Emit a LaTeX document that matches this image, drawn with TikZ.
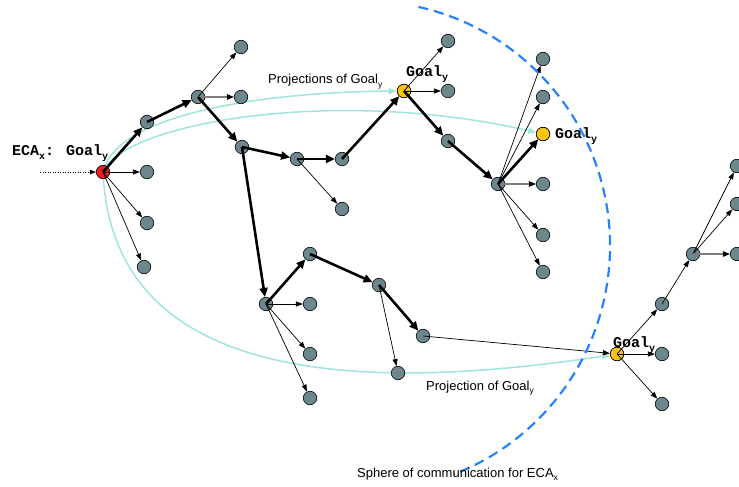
\documentclass[tikz,border=0pt]{standalone}
\usepackage{fontspec}
\setmainfont{Liberation Sans}
\newfontfamily\courfont{Liberation Mono}
\usetikzlibrary{arrows.meta}
\definecolor{ndgray}{RGB}{108,136,142}
\definecolor{ndyellow}{RGB}{250,196,20}
\definecolor{ndred}{RGB}{236,28,36}
\definecolor{projcol}{RGB}{160,228,222}
\definecolor{spherecol}{RGB}{40,130,255}
\definecolor{arrgray}{RGB}{125,125,125}
\newcommand{\monosub}[1]{\raisebox{-4pt}{\fontsize{10}{10}\selectfont #1}}
\newcommand{\sanssub}[1]{\raisebox{-3.5pt}{\fontsize{8.5}{9}\selectfont #1}}
\begin{document}
\begin{tikzpicture}[x=1pt,y=-1pt,
  nd/.style={circle,draw=black,line width=0.6pt,fill=ndgray,minimum size=13.5pt,inner sep=0pt},
  ndy/.style={nd,fill=ndyellow},
  ndr/.style={nd,fill=ndred},
  thinarr/.style={line width=0.7pt,-{Triangle[length=7pt,width=5pt]}},
  grayarr/.style={line width=1.2pt,draw=arrgray,-{Triangle[length=7pt,width=5.5pt,color=black]}},
  boldarr/.style={line width=2.6pt,-{Triangle[length=9pt,width=8pt]}},
  proj/.style={line width=1.5pt,draw=projcol,-{Triangle[length=8pt,width=6pt,fill=projcol]}},
  sphere/.style={line width=2.2pt,draw=spherecol,dash pattern=on 10pt off 6pt},
  monolbl/.style={anchor=base west,inner sep=0pt,font=\courfont\bfseries\fontsize{15}{17}\selectfont},
  sanslbl/.style={anchor=base west,inner sep=0pt,font=\fontsize{13}{15}\selectfont}
]
\useasboundingbox (0,0) rectangle (739,487);
% projection curves (underneath)
\coordinate (rc) at (103,172);
\node[ndy] (y1) at (404,91) {};
\node[ndy] (y2) at (543,134) {};
\node[ndy] (y3) at (617,354) {};
\draw[proj] (rc) .. controls (115,115) and (260,92) .. (y1);
\draw[proj] (rc) .. controls (120,125) and (330,85) .. (y2);
\draw[proj] (rc) .. controls (110,330) and (250,410) .. (y3);
% nodes
\node[ndr] (r) at (103,172) {};
\node[nd] (a1) at (147,122) {};
\node[nd] (a2) at (198,97) {};
\node[nd] (a2t) at (241,47) {};
\node[nd] (a2r) at (241,97) {};
\node[nd] (r1) at (147,172) {};
\node[nd] (r2) at (147,223) {};
\node[nd] (r3) at (144,267) {};
\node[nd] (a3) at (242,147) {};
\node[nd] (a4) at (297,159) {};
\node[nd] (a4c) at (342,209) {};
\node[nd] (a5) at (342,159) {};
\node[ndy] (y1) at (404,91) {};
\node[nd] (y1t) at (448,41) {};
\node[nd] (y1r) at (448,91) {};
\node[nd] (b1) at (448,141) {};
\node[nd] (b2) at (498,184) {};
\node[nd] (b2a) at (543,59) {};
\node[nd] (b2b) at (543,97) {};
\node[ndy] (y2) at (543,134) {};
\node[nd] (b2c) at (543,184) {};
\node[nd] (b2d) at (543,235) {};
\node[nd] (b2e) at (543,272) {};
\node[nd] (c1) at (266,304) {};
\node[nd] (c2) at (310,254) {};
\node[nd] (c1a) at (310,304) {};
\node[nd] (c1b) at (310,354) {};
\node[nd] (c1c) at (310,398) {};
\node[nd] (c3) at (379,285) {};
\node[nd] (c3a) at (398,373) {};
\node[nd] (c4) at (423,336) {};
\node[ndy] (y3) at (617,354) {};
\node[nd] (y3a) at (662,304) {};
\node[nd] (y3b) at (662,354) {};
\node[nd] (y3c) at (662,404) {};
\node[nd] (d2) at (693,254) {};
\node[nd] (d2a) at (737,166) {};
\node[nd] (d2b) at (737,204) {};
\node[nd] (d2c) at (737,254) {};
% incoming dotted
\coordinate (in) at (40,172);
\draw[line width=0.5pt,dotted,-{Triangle[length=6pt,width=4.5pt]}] (in) -- (r);
% thin edges
\draw[thinarr] (r.center) -- (r1);
\draw[thinarr] (r.center) -- (r2);
\draw[thinarr] (r.center) -- (r3);
\draw[thinarr] (a2.center) -- (a2t);
\draw[grayarr] (a2.center) -- (a2r);
\draw[thinarr] (a4.center) -- (a4c);
\draw[thinarr] (y1.center) -- (y1t);
\draw[thinarr] (y1.center) -- (y1r);
\draw[thinarr] (b2.center) -- (b2a);
\draw[thinarr] (b2.center) -- (b2b);
\draw[grayarr] (b2.center) -- (b2c);
\draw[thinarr] (b2.center) -- (b2d);
\draw[thinarr] (b2.center) -- (b2e);
\draw[thinarr] (c1.center) -- (c1a);
\draw[thinarr] (c1.center) -- (c1b);
\draw[thinarr] (c1.center) -- (c1c);
\draw[thinarr] (c3.center) -- (c3a);
\draw[thinarr] (c4.center) -- (y3);
\draw[thinarr] (y3.center) -- (y3a);
\draw[thinarr] (y3.center) -- (y3b);
\draw[thinarr] (y3.center) -- (y3c);
\draw[thinarr] (y3a.center) -- (d2);
\draw[thinarr] (d2.center) -- (d2a);
\draw[thinarr] (d2.center) -- (d2b);
\draw[grayarr] (d2.center) -- (d2c);
% bold path
\draw[boldarr] (r.center) -- (a1);
\draw[boldarr] (a1.center) -- (a2);
\draw[boldarr] (a2.center) -- (a3);
\draw[boldarr] (a3.center) -- (a4);
\draw[boldarr] (a4.center) -- (a5);
\draw[boldarr] (a5.center) -- (y1);
\draw[boldarr] (y1.center) -- (b1);
\draw[boldarr] (b1.center) -- (b2);
\draw[boldarr] (b2.center) -- (y2);
\draw[boldarr] (a3.center) -- (c1);
\draw[boldarr] (c1.center) -- (c2);
\draw[boldarr] (c2.center) -- (c3);
\draw[boldarr] (c3.center) -- (c4);
% sphere of communication
\draw[sphere] (365,246) ++(-77.4:245) arc[start angle=-77.4,end angle=68.7,radius=245];
% labels
\node[monolbl] (lx) at (12,155) {ECA\monosub{x}: Goal\monosub{y}};
\node[monolbl] (l1) at (406,77) {Goal\monosub{y}};
\node[monolbl] (l2) at (555,138) {Goal\monosub{y}};
\node[monolbl] (l3) at (613,347) {Goal\monosub{y}};
\node[sanslbl] (p1) at (268,84) {Projections of Goal\sanssub{y}};
\node[sanslbl] (p2) at (426,390) {Projection of Goal\sanssub{y}};
\node[sanslbl] (p3) at (357,477) {Sphere of communication for ECA\sanssub{x}};
\end{tikzpicture}
\end{document}
